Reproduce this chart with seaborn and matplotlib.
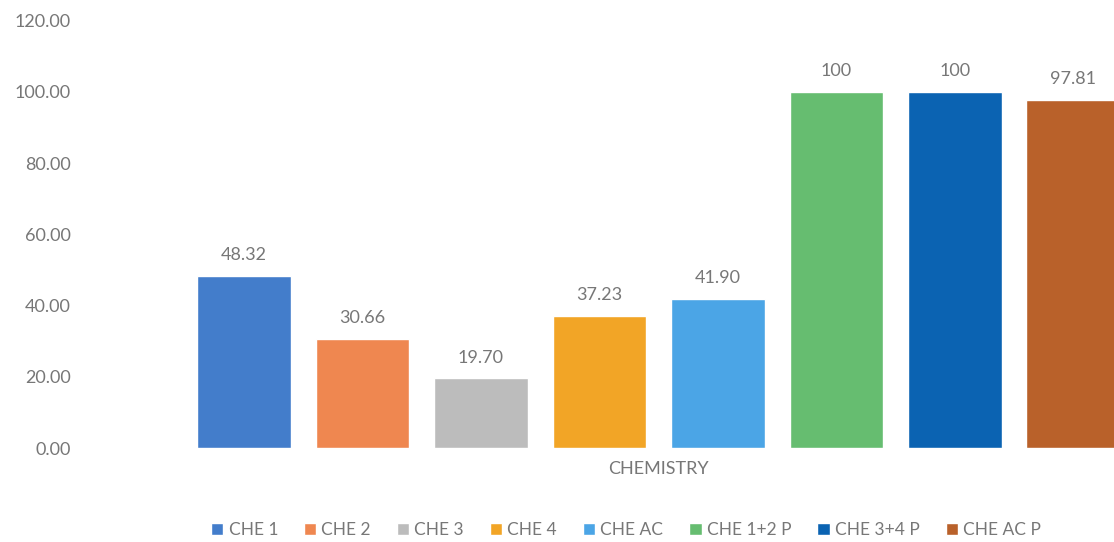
import matplotlib
matplotlib.use("Agg")
import matplotlib.pyplot as plt
from matplotlib.patches import Patch
import seaborn as sns
import pandas as pd

categories = ["CHEMISTRY"]
series = ["CHE 1", "CHE 2", "CHE 3", "CHE 4", "CHE AC", "CHE 1+2 P", "CHE 3+4 P", "CHE AC P"]
values = [48.32, 30.66, 19.70, 37.23, 41.90, 100, 100, 97.81]
value_labels = ["48.32", "30.66", "19.70", "37.23", "41.90", "100", "100", "97.81"]
colors = ["#437dcb", "#ef8750", "#bcbcbc", "#f2a526", "#4ba5e6", "#66bd70", "#0b63b2", "#b9612a"]
y_ticks = [0, 20, 40, 60, 80, 100, 120]

df = pd.DataFrame({
    "subject": categories * len(series),
    "series": series,
    "value": values,
})

sns.set_theme(style="white")
plt.rcParams["font.family"] = ["Lato", "DejaVu Sans"]
text_gray = "#777777"

fig = plt.figure(figsize=(11.14, 5.42), dpi=100)
# axes runs past the right edge, like the cropped original
ax = fig.add_axes([85 / 1114, 93.7 / 542, 1147.5 / 1114, 427.9 / 542])

sns.barplot(data=df, x="subject", y="value", hue="series", hue_order=series,
            palette=colors, saturation=1, width=0.8, gap=0.207,
            legend=False, ax=ax)

for cont, lab in zip(ax.containers, value_labels):
    ax.bar_label(cont, labels=[lab], padding=9, fontsize=13, color=text_gray)

ax.set_xlim(-0.4842, 0.4842)
ax.set_ylim(0, 120)
ax.set_yticks(y_ticks)
ax.set_yticklabels([f"{t:.2f}" for t in y_ticks])
ax.set_xlabel("")
ax.set_ylabel("")
ax.tick_params(axis="y", length=0, pad=10, labelsize=13, labelcolor=text_gray)
ax.tick_params(axis="x", length=0, pad=9, labelsize=13, labelcolor=text_gray)
for s in ax.spines.values():
    s.set_visible(False)

handles = [Patch(facecolor=c, label=s) for c, s in zip(colors, series)]
fig.legend(handles=handles, loc="center", bbox_to_anchor=(626 / 1114, 1 - 530 / 542),
           ncol=8, frameon=False, fontsize=12.5, labelcolor=text_gray,
           handlelength=0.7, handleheight=0.7, handletextpad=0.3, columnspacing=1.5)

fig.savefig("out.png", dpi=100)
